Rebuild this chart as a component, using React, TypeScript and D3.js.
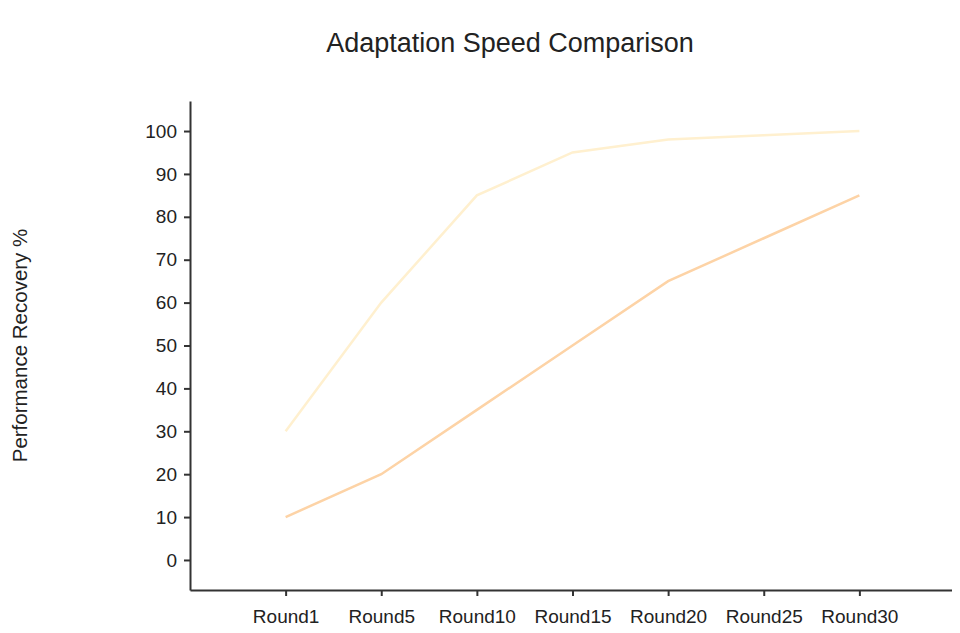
import React, { useEffect, useRef } from "react";
import * as d3 from "d3";

const rounds = ["Round1", "Round5", "Round10", "Round15", "Round20", "Round25", "Round30"];
const fastSeries = [30, 60, 85, 95, 98, 99, 100];
const slowSeries = [10, 20, 35, 50, 65, 75, 85];
const yTicks = [0, 10, 20, 30, 40, 50, 60, 70, 80, 90, 100];

const W = 960;
const H = 633;

export default function App() {
  const ref = useRef<SVGSVGElement | null>(null);

  useEffect(() => {
    const svg = d3.select(ref.current);
    svg.selectAll("*").remove();

    const left = 182;
    const right = 947;
    const top = 93;
    const bottom = 582;

    const x = d3.scalePoint<string>().domain(rounds).range([left, right]).padding(1);
    const y = d3.scaleLinear().domain([-7, 107]).range([bottom, top]);

    const font = "Liberation Sans, Arial, sans-serif";

    svg
      .append("text")
      .attr("x", 502)
      .attr("y", 44)
      .attr("text-anchor", "middle")
      .attr("font-family", font)
      .attr("font-size", 27)
      .attr("fill", "#222")
      .text("Adaptation Speed Comparison");

    svg
      .append("text")
      .attr("transform", `translate(11,${(top + bottom) / 2 + 0}) rotate(-90)`)
      .attr("text-anchor", "middle")
      .attr("dominant-baseline", "central")
      .attr("font-family", font)
      .attr("font-size", 20.5)
      .attr("fill", "#222")
      .text("Performance Recovery %");

    // y axis
    const gy = svg
      .append("g")
      .attr("transform", `translate(${left},0)`)
      .call(d3.axisLeft(y).tickValues(yTicks).tickSize(6).tickSizeOuter(0).tickPadding(7));
    gy.select(".domain").attr("stroke", "#333").attr("stroke-width", 2);
    gy.selectAll(".tick line").attr("stroke", "#333").attr("stroke-width", 2);
    gy.selectAll(".tick text")
      .attr("font-family", font)
      .attr("font-size", 19)
      .attr("fill", "#222");

    // x axis
    const gx = svg
      .append("g")
      .attr("transform", `translate(0,${bottom})`)
      .call(d3.axisBottom(x).tickSize(6).tickSizeOuter(0).tickPadding(14));
    gx.select(".domain").attr("stroke", "#333").attr("stroke-width", 2);
    gx.selectAll(".tick line").attr("stroke", "#333").attr("stroke-width", 2);
    gx.selectAll(".tick text")
      .attr("font-family", font)
      .attr("font-size", 19)
      .attr("fill", "#222");

    const line = d3
      .line<number>()
      .x((_, i) => x(rounds[i]) as number)
      .y((d) => y(d));

    svg
      .append("path")
      .datum(fastSeries)
      .attr("d", line)
      .attr("fill", "none")
      .attr("stroke", "#fff0cf")
      .attr("stroke-width", 2.5);

    svg
      .append("path")
      .datum(slowSeries)
      .attr("d", line)
      .attr("fill", "none")
      .attr("stroke", "#fdd3a6")
      .attr("stroke-width", 2.5);
  }, []);

  return <svg ref={ref} width={W} height={H} style={{ display: "block" }} />;
}
